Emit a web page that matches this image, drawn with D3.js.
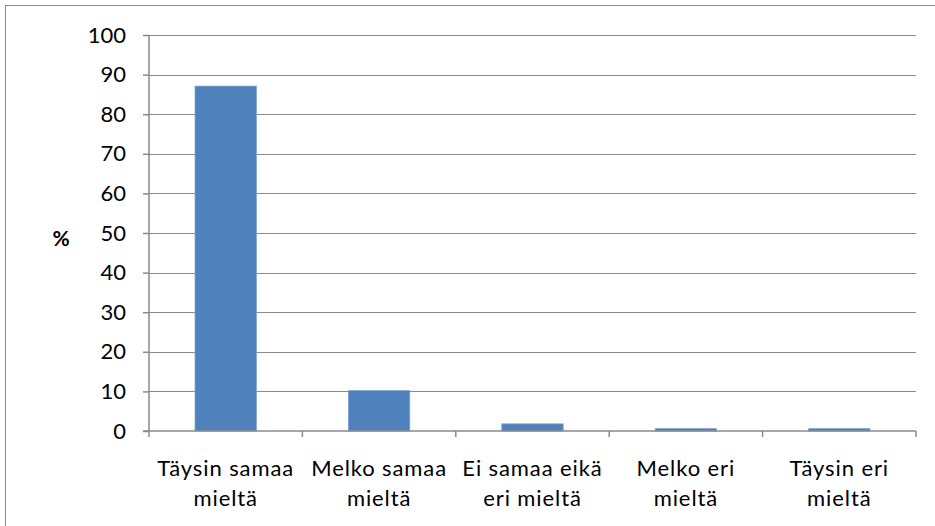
<!DOCTYPE html>
<html>
<head>
<meta charset="utf-8">
<script src="https://cdn.jsdelivr.net/npm/d3@7"></script>
<style>
  html, body { margin: 0; padding: 0; background: #fff; }
  svg { display: block; }
  text { font-family: Lato, "Open Sans", sans-serif; fill: #000; }
</style>
</head>
<body>
<svg id="chart" width="935" height="526"></svg>
<script>
// Answer categories (line breaks mark how each label wraps)
const categories = [
  "Täysin samaa\nmieltä",
  "Melko samaa\nmieltä",
  "Ei samaa eikä\neri mieltä",
  "Melko eri\nmieltä",
  "Täysin eri\nmieltä"
];
// Share of respondents, %
const values = [87.1, 10.2, 1.8, 0.6, 0.6];
const yTicks = [0, 10, 20, 30, 40, 50, 60, 70, 80, 90, 100];
const yLabel = "%";

const svg = d3.select("#chart");
const W = 935, H = 526;
const plot = { left: 149, right: 916, top: 35, bottom: 431 };

// Outer chart frame (its right and bottom edges run past the view)
svg.append("rect")
  .attr("x", 5.5).attr("y", 5.5)
  .attr("width", W + 20).attr("height", H + 20)
  .attr("fill", "#fff").attr("stroke", "#8a8a8a").attr("stroke-width", 1);

const x = d3.scaleBand().domain(categories).range([plot.left, plot.right]).padding(0);
const y = d3.scaleLinear().domain([0, 100]).range([plot.bottom, plot.top]);

// Horizontal gridlines
svg.append("g").selectAll("line")
  .data(yTicks.filter(t => t > 0))
  .join("line")
  .attr("x1", plot.left).attr("x2", plot.right)
  .attr("y1", d => Math.round(y(d)) + 0.5).attr("y2", d => Math.round(y(d)) + 0.5)
  .attr("stroke", "#8a8a8a").attr("stroke-width", 1);

// Bars, 40% of each category band, centred
const barW = x.bandwidth() * 0.4;
svg.append("g").selectAll("rect")
  .data(values)
  .join("rect")
  .attr("x", (d, i) => x(categories[i]) + (x.bandwidth() - barW) / 2)
  .attr("y", d => y(d))
  .attr("width", barW)
  .attr("height", d => y(0) - y(d))
  .attr("fill", "#4f81bd")
  .attr("stroke", "#7ea3d2").attr("stroke-width", 0.8);

// Y axis
const yAxis = d3.axisLeft(y).tickValues(yTicks).tickSize(6).tickPadding(17);
const gy = svg.append("g").attr("transform", `translate(${plot.left},0)`).call(yAxis);
gy.select(".domain").attr("stroke", "#8a8a8a").attr("stroke-width", 1.5)
  .attr("d", `M0,${plot.top}V${plot.bottom}`);
gy.selectAll(".tick line").attr("stroke", "#8a8a8a").attr("stroke-width", 1.5);
gy.selectAll(".tick text")
  .style("font-size", "22px").style("font-family", "Lato, 'Open Sans', sans-serif")
  .attr("fill", "#000");

// X axis with tick marks at band boundaries
const gx = svg.append("g");
gx.append("line")
  .attr("x1", plot.left - 6).attr("x2", plot.right)
  .attr("y1", plot.bottom).attr("y2", plot.bottom)
  .attr("stroke", "#8a8a8a").attr("stroke-width", 1.5);
const bounds = categories.map(c => x(c)).concat([x(categories[categories.length - 1]) + x.bandwidth()]);
gx.selectAll("line.tk").data(bounds).join("line").attr("class", "tk")
  .attr("x1", d => d).attr("x2", d => d)
  .attr("y1", plot.bottom).attr("y2", plot.bottom + 6)
  .attr("stroke", "#8a8a8a").attr("stroke-width", 1.5);

// Category labels, two lines each
const labels = gx.selectAll("text.cat").data(categories).join("text").attr("class", "cat")
  .attr("text-anchor", "middle")
  .style("font-size", "22px")
  .style("letter-spacing", "0.9px");
labels.each(function(d) {
  const t = d3.select(this);
  const cx = x(d) + x.bandwidth() / 2;
  d.split("\n").forEach((line, i) => {
    t.append("tspan").attr("x", cx).attr("y", 476 + i * 30).text(line);
  });
});

// Axis title
svg.append("text")
  .attr("x", 61).attr("y", 246)
  .attr("text-anchor", "middle")
  .style("font-size", "21px").style("font-weight", "bold")
  .text(yLabel);
</script>
</body>
</html>
